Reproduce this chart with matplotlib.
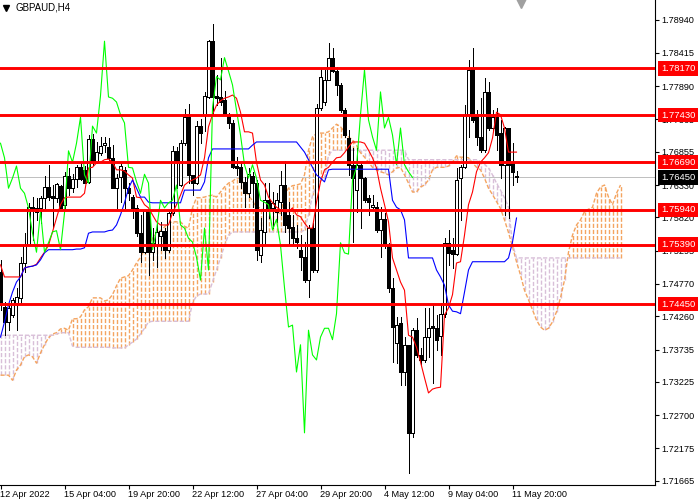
import matplotlib
matplotlib.use('Agg')
import matplotlib.pyplot as plt
from matplotlib.patches import Rectangle
from matplotlib.lines import Line2D
from matplotlib.collections import LineCollection
import matplotlib.transforms as mtransforms

plt.rcParams['font.family'] = ['Liberation Sans', 'DejaVu Sans']
plt.rcParams['lines.scale_dashes'] = False

title_text = "GBPAUD,H4"

open_ = [1.7496, 1.7441, 1.7417, 1.7428, 1.7447, 1.7455, 1.7510, 1.7538, 1.7598, 1.7597,
         1.7597, 1.7613, 1.7630, 1.7616, 1.7613, 1.7632, 1.7602, 1.7647, 1.7628, 1.7643,
         1.7661, 1.7657, 1.7638, 1.7706, 1.7669, 1.7684, 1.7696, 1.7693, 1.7676, 1.7628,
         1.7646, 1.7657, 1.7628, 1.7614, 1.7597, 1.7557, 1.7527, 1.7592, 1.7527, 1.7538,
         1.7553, 1.7561, 1.7531, 1.7589, 1.7687, 1.7633, 1.7699, 1.7740, 1.7649, 1.7636,
         1.7726, 1.7744, 1.7772, 1.7860, 1.7774, 1.7772, 1.7767, 1.7744, 1.7731, 1.7663,
         1.7661, 1.7638, 1.7620, 1.7647, 1.7636, 1.7523, 1.7559, 1.7609, 1.7597, 1.7591,
         1.7606, 1.7633, 1.7586, 1.7567, 1.7549, 1.7531, 1.7519, 1.7483, 1.7565, 1.7499,
         1.7755, 1.7764, 1.7799, 1.7834, 1.7813, 1.7791, 1.7751, 1.7707, 1.7665, 1.7625,
         1.7665, 1.7644, 1.7613, 1.7598, 1.7598, 1.7562, 1.7579, 1.7538, 1.7471, 1.7384,
         1.7415, 1.7338, 1.7381, 1.7242, 1.7404, 1.7365, 1.7357, 1.7393, 1.7411, 1.7407,
         1.7395, 1.7430, 1.7542, 1.7531, 1.7524, 1.7644, 1.7661, 1.7744, 1.7818, 1.7744,
         1.7709, 1.7688, 1.7780, 1.7723, 1.7740, 1.7715, 1.7665, 1.7723, 1.7668, 1.7647]

high = [1.7515, 1.7448, 1.7447, 1.7455, 1.7471, 1.7519, 1.7557, 1.7605, 1.7614, 1.7613,
        1.7616, 1.7647, 1.7665, 1.7633, 1.7636, 1.7633, 1.7654, 1.7660, 1.7650, 1.7665,
        1.7668, 1.7663, 1.7712, 1.7714, 1.7701, 1.7709, 1.7709, 1.7707, 1.7696, 1.7650,
        1.7669, 1.7661, 1.7636, 1.7617, 1.7602, 1.7586, 1.7594, 1.7594, 1.7565, 1.7573,
        1.7575, 1.7565, 1.7594, 1.7695, 1.7693, 1.7704, 1.7753, 1.7761, 1.7649, 1.7734,
        1.7737, 1.7780, 1.7862, 1.7887, 1.7807, 1.7834, 1.7781, 1.7747, 1.7736, 1.7677,
        1.7669, 1.7646, 1.7660, 1.7654, 1.7641, 1.7581, 1.7636, 1.7636, 1.7622, 1.7620,
        1.7655, 1.7671, 1.7606, 1.7586, 1.7570, 1.7554, 1.7543, 1.7570, 1.7573, 1.7761,
        1.7818, 1.7815, 1.7857, 1.7849, 1.7819, 1.7794, 1.7755, 1.7720, 1.7692, 1.7692,
        1.7669, 1.7646, 1.7617, 1.7617, 1.7606, 1.7598, 1.7589, 1.7542, 1.7486, 1.7425,
        1.7425, 1.7393, 1.7381, 1.7407, 1.7423, 1.7376, 1.7439, 1.7439, 1.7444, 1.7428,
        1.7447, 1.7549, 1.7562, 1.7549, 1.7660, 1.7665, 1.7759, 1.7830, 1.7849, 1.7751,
        1.7770, 1.7802, 1.7796, 1.7751, 1.7755, 1.7736, 1.7725, 1.7723, 1.7699, 1.7655]

low = [1.7436, 1.7396, 1.7404, 1.7425, 1.7404, 1.7447, 1.7496, 1.7538, 1.7546, 1.7578,
       1.7573, 1.7597, 1.7609, 1.7565, 1.7606, 1.7597, 1.7595, 1.7617, 1.7622, 1.7630,
       1.7641, 1.7636, 1.7636, 1.7665, 1.7668, 1.7680, 1.7685, 1.7673, 1.7628, 1.7597,
       1.7606, 1.7597, 1.7609, 1.7581, 1.7553, 1.7512, 1.7526, 1.7491, 1.7515, 1.7504,
       1.7531, 1.7518, 1.7527, 1.7586, 1.7628, 1.7632, 1.7696, 1.7636, 1.7617, 1.7635,
       1.7699, 1.7718, 1.7770, 1.7744, 1.7759, 1.7759, 1.7744, 1.7723, 1.7660, 1.7649,
       1.7628, 1.7598, 1.7614, 1.7598, 1.7515, 1.7512, 1.7538, 1.7581, 1.7565, 1.7575,
       1.7586, 1.7559, 1.7538, 1.7538, 1.7534, 1.7499, 1.7480, 1.7456, 1.7496, 1.7496,
       1.7751, 1.7759, 1.7799, 1.7811, 1.7775, 1.7748, 1.7709, 1.7649, 1.7543, 1.7591,
       1.7565, 1.7606, 1.7586, 1.7597, 1.7559, 1.7519, 1.7534, 1.7464, 1.7354, 1.7352,
       1.7318, 1.7318, 1.7179, 1.7235, 1.7362, 1.7349, 1.7354, 1.7362, 1.7321, 1.7373,
       1.7365, 1.7425, 1.7507, 1.7502, 1.7523, 1.7578, 1.7660, 1.7709, 1.7732, 1.7696,
       1.7685, 1.7685, 1.7720, 1.7720, 1.7688, 1.7644, 1.7586, 1.7581, 1.7633, 1.7638]

close = [1.7444, 1.7417, 1.7439, 1.7452, 1.7456, 1.7510, 1.7538, 1.7598, 1.7594, 1.7591,
         1.7613, 1.7630, 1.7614, 1.7613, 1.7635, 1.7597, 1.7647, 1.7628, 1.7643, 1.7661,
         1.7643, 1.7636, 1.7706, 1.7669, 1.7685, 1.7695, 1.7699, 1.7676, 1.7628, 1.7644,
         1.7663, 1.7628, 1.7620, 1.7597, 1.7557, 1.7527, 1.7592, 1.7527, 1.7542, 1.7559,
         1.7561, 1.7531, 1.7589, 1.7687, 1.7669, 1.7699, 1.7740, 1.7649, 1.7636, 1.7726,
         1.7715, 1.7774, 1.7860, 1.7772, 1.7770, 1.7764, 1.7744, 1.7731, 1.7661, 1.7660,
         1.7638, 1.7620, 1.7650, 1.7636, 1.7531, 1.7562, 1.7609, 1.7597, 1.7605, 1.7609,
         1.7633, 1.7570, 1.7565, 1.7549, 1.7543, 1.7519, 1.7483, 1.7565, 1.7499, 1.7755,
         1.7804, 1.7799, 1.7834, 1.7813, 1.7791, 1.7751, 1.7712, 1.7665, 1.7644, 1.7665,
         1.7644, 1.7609, 1.7606, 1.7602, 1.7562, 1.7579, 1.7538, 1.7471, 1.7409, 1.7412,
         1.7338, 1.7381, 1.7242, 1.7404, 1.7365, 1.7357, 1.7393, 1.7407, 1.7407, 1.7389,
         1.7430, 1.7542, 1.7526, 1.7524, 1.7641, 1.7661, 1.7744, 1.7815, 1.7736, 1.7709,
         1.7688, 1.7780, 1.7723, 1.7740, 1.7712, 1.7665, 1.7723, 1.7665, 1.7654, 1.7645]

tenkan = [1.7507, 1.7488, 1.7488, 1.7488, 1.7488, 1.7488, 1.7502, 1.7504, 1.7505, 1.7508,
          1.7518, 1.7527, 1.7538, 1.7559, 1.7581, 1.7602, 1.7613, 1.7614, 1.7614, 1.7614,
          1.7614, 1.7620, 1.7660, 1.7661, 1.7668, 1.7669, 1.7673, 1.7674, 1.7669, 1.7657,
          1.7657, 1.7655, 1.7649, 1.7644, 1.7614, 1.7613, 1.7602, 1.7597, 1.7586, 1.7575,
          1.7570, 1.7570, 1.7570, 1.7589, 1.7602, 1.7617, 1.7633, 1.7638, 1.7641, 1.7644,
          1.7649, 1.7676, 1.7725, 1.7744, 1.7759, 1.7766, 1.7770, 1.7772, 1.7775, 1.7770,
          1.7748, 1.7717, 1.7717, 1.7715, 1.7669, 1.7641, 1.7633, 1.7614, 1.7605, 1.7598,
          1.7594, 1.7591, 1.7591, 1.7597, 1.7586, 1.7583, 1.7573, 1.7565, 1.7565, 1.7606,
          1.7638, 1.7657, 1.7661, 1.7669, 1.7676, 1.7677, 1.7684, 1.7693, 1.7701, 1.7701,
          1.7701, 1.7699, 1.7688, 1.7676, 1.7660, 1.7628, 1.7602, 1.7575, 1.7518, 1.7499,
          1.7480, 1.7467, 1.7396, 1.7393, 1.7377, 1.7354, 1.7329, 1.7305, 1.7311, 1.7313,
          1.7314, 1.7428, 1.7439, 1.7460, 1.7510, 1.7512, 1.7554, 1.7602, 1.7622, 1.7654,
          1.7669, 1.7676, 1.7684, 1.7707, 1.7748, 1.7744, 1.7723, 1.7685, 1.7685, 1.7685]

kijun = [1.7393, 1.7417, 1.7444, 1.7464, 1.7480, 1.7488, 1.7502, 1.7504, 1.7505, 1.7507,
         1.7515, 1.7526, 1.7531, 1.7531, 1.7531, 1.7531, 1.7531, 1.7531, 1.7531, 1.7532,
         1.7532, 1.7534, 1.7557, 1.7559, 1.7559, 1.7559, 1.7559, 1.7561, 1.7562, 1.7570,
         1.7586, 1.7605, 1.7628, 1.7641, 1.7628, 1.7614, 1.7614, 1.7606, 1.7605, 1.7605,
         1.7605, 1.7605, 1.7605, 1.7605, 1.7605, 1.7605, 1.7625, 1.7625, 1.7625, 1.7625,
         1.7625, 1.7638, 1.7676, 1.7690, 1.7690, 1.7690, 1.7690, 1.7690, 1.7690, 1.7690,
         1.7690, 1.7690, 1.7690, 1.7696, 1.7701, 1.7701, 1.7701, 1.7701, 1.7701, 1.7701,
         1.7701, 1.7701, 1.7701, 1.7701, 1.7701, 1.7693, 1.7685, 1.7673, 1.7661, 1.7649,
         1.7644, 1.7638, 1.7657, 1.7658, 1.7658, 1.7658, 1.7658, 1.7658, 1.7658, 1.7658,
         1.7658, 1.7658, 1.7658, 1.7658, 1.7658, 1.7658, 1.7658, 1.7658, 1.7609, 1.7598,
         1.7594, 1.7578, 1.7518, 1.7518, 1.7518, 1.7518, 1.7518, 1.7518, 1.7518, 1.7499,
         1.7488, 1.7475, 1.7444, 1.7434, 1.7433, 1.7430, 1.7464, 1.7499, 1.7512, 1.7512,
         1.7512, 1.7512, 1.7512, 1.7512, 1.7512, 1.7512, 1.7512, 1.7518, 1.7543, 1.7581]

span_a = [1.7333, 1.7333, 1.7333, 1.7325, 1.7341, 1.7349, 1.7362, 1.7365, 1.7362, 1.7352,
          1.7368, 1.7381, 1.7392, 1.7398, 1.7400, 1.7406, 1.7407, 1.7404, 1.7422, 1.7422,
          1.7425, 1.7436, 1.7441, 1.7455, 1.7455, 1.7455, 1.7450, 1.7452, 1.7460, 1.7474,
          1.7486, 1.7488, 1.7490, 1.7499, 1.7510, 1.7519, 1.7531, 1.7538, 1.7549, 1.7557,
          1.7561, 1.7567, 1.7573, 1.7575, 1.7575, 1.7575, 1.7568, 1.7565, 1.7597, 1.7613,
          1.7613, 1.7614, 1.7616, 1.7617, 1.7614, 1.7622, 1.7630, 1.7636, 1.7639, 1.7644,
          1.7644, 1.7633, 1.7617, 1.7608, 1.7598, 1.7597, 1.7591, 1.7594, 1.7597, 1.7594,
          1.7586, 1.7617, 1.7628, 1.7632, 1.7633, 1.7635, 1.7649, 1.7688, 1.7709, 1.7714,
          1.7715, 1.7715, 1.7717, 1.7723, 1.7729, 1.7725, 1.7717, 1.7709, 1.7704, 1.7696,
          1.7684, 1.7677, 1.7669, 1.7661, 1.7657, 1.7654, 1.7652, 1.7649, 1.7654, 1.7660,
          1.7661, 1.7649, 1.7636, 1.7622, 1.7622, 1.7630, 1.7633, 1.7641, 1.7657, 1.7661,
          1.7661, 1.7661, 1.7663, 1.7669, 1.7679, 1.7677, 1.7677, 1.7676, 1.7668, 1.7661,
          1.7657, 1.7644, 1.7628, 1.7618, 1.7607, 1.7596, 1.7578, 1.7558, 1.7536, 1.7512,
          1.7491, 1.7467, 1.7452, 1.7436, 1.7420, 1.7409, 1.7404, 1.7407, 1.7417, 1.7433,
          1.7455, 1.7483, 1.7527, 1.7554, 1.7570, 1.7578, 1.7591, 1.7595, 1.7598, 1.7620,
          1.7630, 1.7633, 1.7614, 1.7602, 1.7620, 1.7633]

span_b = [1.7396, 1.7396, 1.7396, 1.7396, 1.7396, 1.7396, 1.7396, 1.7396, 1.7396, 1.7396,
          1.7396, 1.7396, 1.7396, 1.7396, 1.7398, 1.7400, 1.7400, 1.7400, 1.7379, 1.7377,
          1.7377, 1.7377, 1.7377, 1.7377, 1.7377, 1.7377, 1.7377, 1.7377, 1.7376, 1.7376,
          1.7376, 1.7376, 1.7381, 1.7385, 1.7390, 1.7398, 1.7407, 1.7417, 1.7418, 1.7418,
          1.7418, 1.7418, 1.7418, 1.7418, 1.7418, 1.7418, 1.7418, 1.7418, 1.7447, 1.7458,
          1.7461, 1.7461, 1.7461, 1.7480, 1.7499, 1.7518, 1.7538, 1.7554, 1.7559, 1.7559,
          1.7559, 1.7559, 1.7559, 1.7559, 1.7559, 1.7559, 1.7559, 1.7559, 1.7559, 1.7559,
          1.7559, 1.7559, 1.7559, 1.7559, 1.7559, 1.7559, 1.7562, 1.7586, 1.7617, 1.7633,
          1.7641, 1.7644, 1.7680, 1.7688, 1.7688, 1.7688, 1.7688, 1.7688, 1.7688, 1.7688,
          1.7688, 1.7688, 1.7688, 1.7688, 1.7688, 1.7688, 1.7688, 1.7688, 1.7688, 1.7688,
          1.7688, 1.7688, 1.7673, 1.7673, 1.7673, 1.7673, 1.7673, 1.7673, 1.7673, 1.7673,
          1.7673, 1.7673, 1.7673, 1.7673, 1.7673, 1.7673, 1.7673, 1.7673, 1.7673, 1.7673,
          1.7670, 1.7666, 1.7660, 1.7649, 1.7636, 1.7625, 1.7613, 1.7598, 1.7540, 1.7518,
          1.7518, 1.7518, 1.7518, 1.7518, 1.7518, 1.7518, 1.7518, 1.7518, 1.7518, 1.7518,
          1.7518, 1.7518, 1.7518, 1.7518, 1.7518, 1.7518, 1.7518, 1.7518, 1.7518, 1.7518,
          1.7518, 1.7518, 1.7518, 1.7518, 1.7518, 1.7518]

chikou_shift = 26
level_prices = [1.78170, 1.77430, 1.76690, 1.75940, 1.75390, 1.74450]
current_price = 1.76450
ytick_values = [1.78940, 1.78415, 1.77890, 1.77365, 1.76855, 1.76330, 1.75820,
                1.75295, 1.74770, 1.74260, 1.73735, 1.73225, 1.72700, 1.72175, 1.71665]
xtick_bars = [0, 16, 32, 48, 64, 80, 96, 112, 128]
xtick_labels = ["12 Apr 2022", "15 Apr 04:00", "19 Apr 20:00", "22 Apr 12:00",
                "27 Apr 04:00", "29 Apr 20:00", "4 May 12:00", "9 May 04:00", "11 May 20:00"]

W, H = 700, 500
fig = plt.figure(figsize=(7, 5), dpi=100)
fig.patch.set_facecolor('white')
ax = fig.add_axes([0, 15 / H, 655 / W, 485 / H])
ax.set_facecolor('white')
ax.set_xlim(-0.125, 163.625)
ax.set_ylim(1.71597, 1.79250)

dash = (0, (3.0, 1.4))
px = 0.72  # one pixel in points
sandy = '#F4A460'
thistle = '#D8BFD8'

# Ichimoku cloud (vertical dotted histogram between the spans)
segs, cols = [], []
for i in range(len(span_a)):
    a, b = span_a[i], span_b[i]
    segs.append([(i, min(a, b)), (i, max(a, b))])
    cols.append(sandy if a >= b else thistle)
hatch = LineCollection(segs, colors=cols, linewidths=1.0, linestyles=[dash],
                       antialiaseds=True, zorder=1)
ax.add_collection(hatch)
xs_span = list(range(len(span_a)))
ax.plot(xs_span, span_a, color=sandy, ls=dash, lw=1.0, zorder=1)
ax.plot(xs_span, span_b, color=thistle, ls=dash, lw=1.0, zorder=1)

# current price line
ax.axhline(current_price, color='#C0C0C0', lw=px, antialiased=False, zorder=2)

# candles
n = len(close)
for i in range(n):
    o, h, l, c = open_[i], high[i], low[i], close[i]
    ax.vlines(i, l, h, colors='black', lw=px, antialiased=False, zorder=3)
    bottom = min(o, c)
    height = abs(c - o)
    if height < 0.00005:
        ax.hlines(c, i - 0.4, i + 0.4, colors='black', lw=px, antialiased=False, zorder=4)
    else:
        fc = 'white' if c > o else 'black'
        ax.add_patch(Rectangle((i - 0.34, bottom), 0.68, height, facecolor=fc,
                               edgecolor='black', lw=px, antialiased=False, zorder=4))

# Ichimoku lines
xs = list(range(n))
ax.plot(xs, tenkan, color='#FF0000', lw=0.8, zorder=5)
ax.plot(xs, kijun, color='#0000FF', lw=0.8, zorder=5)
chikou_x = [i - chikou_shift for i in range(chikou_shift, n)]
chikou_y = close[chikou_shift:]
ax.plot(chikou_x, chikou_y, color='#00FF00', lw=0.8, zorder=5)

# horizontal levels
for p in level_prices:
    ax.axhline(p, color='#FF0000', lw=2.1, zorder=6)

# axes styling
for s in ['top', 'left']:
    ax.spines[s].set_visible(False)
for s in ['right', 'bottom']:
    ax.spines[s].set_color('black')
    ax.spines[s].set_linewidth(0.8)
ax.yaxis.tick_right()
ax.set_yticks(ytick_values)
ax.set_yticklabels([f"{v:.5f}" for v in ytick_values])
ax.set_xticks(xtick_bars)
ax.set_xticklabels(xtick_labels, ha='left')
ax.tick_params(axis='y', direction='out', length=3, width=0.8, labelsize=6.6, pad=1.5, colors='black')
ax.tick_params(axis='x', direction='out', length=3, width=0.8, labelsize=6.6, pad=0.8, colors='black')

# price labels on the right axis
trans = mtransforms.blended_transform_factory(ax.transAxes, ax.transData)
for p in level_prices:
    ax.text(1 + 6 / 655, p, f"{p:.5f}", transform=trans, color='white', fontsize=6.8,
            va='center', ha='left', zorder=10, clip_on=False,
            bbox=dict(boxstyle='square,pad=0.28', fc='#FF0000', ec='none'))
ax.text(1 + 6 / 655, current_price, f"{current_price:.5f}", transform=trans, color='white',
        fontsize=6.8, va='center', ha='left', zorder=10, clip_on=False,
        bbox=dict(boxstyle='square,pad=0.28', fc='black', ec='none'))

# title and markers
fig.text(15 / W, 1 - 8 / H, title_text, fontsize=7, va='center', ha='left', color='black')
fig.add_artist(Line2D([6 / W], [1 - 8 / H], marker='v', color='black', markersize=4,
                      transform=fig.transFigure))
fig.add_artist(Line2D([521 / W], [1 - 2 / H], marker='v', color='#A0A0A0', markersize=8,
                      transform=fig.transFigure))

fig.savefig('out.png', dpi=100, facecolor='white')
